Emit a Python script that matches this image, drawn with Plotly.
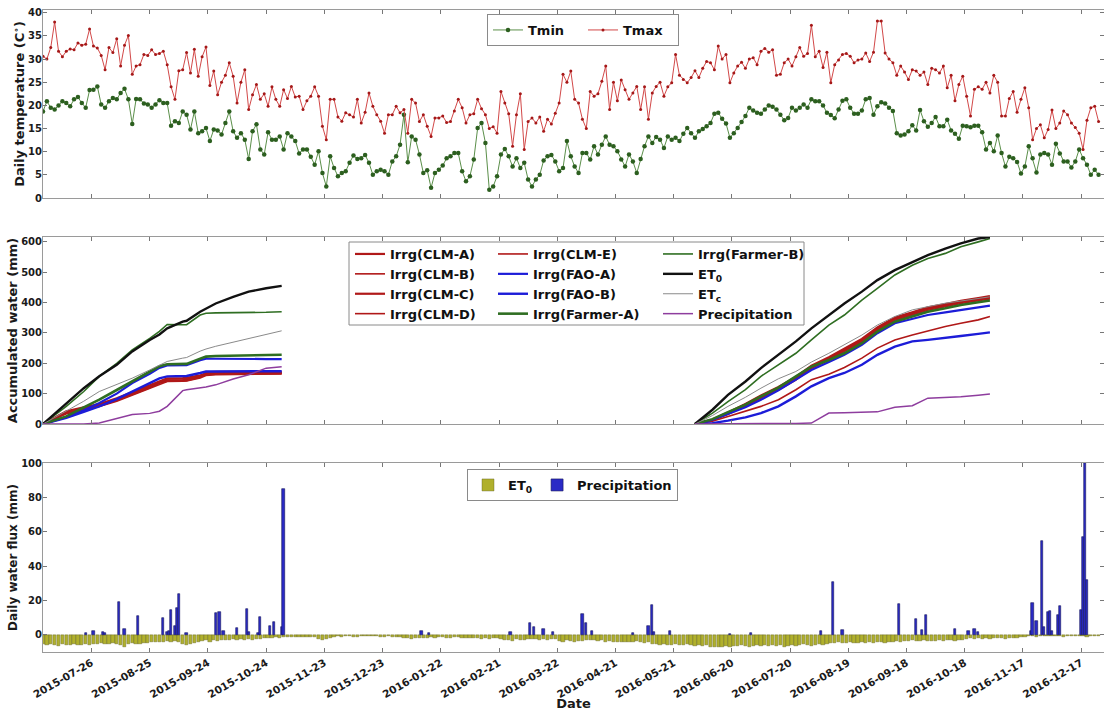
import pandas as pd
import plotly.graph_objects as go
from plotly.subplots import make_subplots

# ---------------- daily weather (read every second day) ----------------
T_START = "2015-07-01"
T_STEP = "2D"
TMAX = [30.6,30.0,32.5,38.0,31.7,30.5,31.7,32.2,32.0,33.5,
        33.0,33.2,36.5,32.8,32.4,30.8,27.7,32.5,31.4,34.4,
        28.5,33.0,35.1,26.7,28.5,28.8,31.0,30.8,32.0,31.0,
        31.2,31.7,28.8,24.0,21.3,27.5,27.7,31.4,27.0,32.1,
        26.3,30.5,32.6,24.3,27.4,22.3,25.0,26.5,29.2,26.3,
        20.5,25.0,27.7,19.1,22.3,24.5,21.3,22.5,19.8,24.0,
        21.3,19.8,23.4,21.5,24.1,21.8,22.0,19.1,21.0,22.0,
        24.0,22.0,15.5,12.6,21.3,21.3,17.5,16.6,18.4,18.0,
        17.5,21.3,16.2,18.5,22.7,19.8,18.0,16.6,14.0,18.0,
        18.0,19.8,18.4,19.1,14.0,21.3,20.5,16.5,18.0,15.5,
        13.3,17.3,17.3,17.7,16.3,16.5,18.8,21.3,19.5,16.2,
        18.0,18.2,21.3,19.3,18.0,15.0,15.4,14.0,23.0,20.5,
        18.2,11.2,18.0,22.5,10.5,16.5,17.3,16.2,17.5,14.4,
        17.0,16.0,18.3,20.5,26.7,25.0,27.4,21.3,20.5,17.0,
        15.0,23.0,22.0,22.5,25.2,28.5,19.1,25.0,21.0,25.5,
        23.4,21.3,22.7,24.1,19.1,24.0,17.0,22.7,24.1,25.0,
        22.0,24.0,24.9,31.0,26.5,25.6,24.9,26.0,27.5,26.0,
        28.0,29.5,29.2,27.7,32.8,30.0,31.0,24.9,27.0,28.5,
        29.3,28.0,30.0,30.3,28.8,31.7,32.3,31.5,32.0,26.5,
        26.7,29.2,30.0,28.5,30.5,32.5,30.6,31.2,37.3,30.5,
        31.7,28.2,31.5,24.9,28.8,29.8,31.0,31.2,30.6,29.2,
        29.8,30.0,31.3,29.5,31.5,38.2,38.2,31.3,30.0,29.2,
        26.5,28.5,27.2,25.6,27.7,27.4,26.5,27.2,24.5,28.0,
        27.7,27.0,28.5,23.8,26.5,21.0,24.5,26.3,22.0,17.7,
        23.5,24.0,23.5,25.0,22.7,26.5,25.0,17.7,17.7,21.5,
        23.0,18.5,21.3,23.8,19.5,12.6,15.0,15.8,13.0,14.8,
        19.0,15.0,16.2,18.8,18.0,16.2,15.2,14.0,10.5,16.8,
        19.5,19.8,16.5]
TMIN = [18.7,20.9,19.5,19.1,20.0,20.9,20.5,19.8,21.3,21.8,
        20.5,19.5,23.3,23.4,24.1,20.2,19.5,20.9,21.6,21.3,
        22.7,23.6,21.3,16.0,21.4,21.3,20.4,20.2,19.5,20.2,
        21.1,20.5,20.5,15.6,16.6,16.2,18.7,18.0,14.8,18.7,
        14.0,14.4,15.1,12.3,14.8,14.6,13.7,16.2,18.7,14.4,
        13.0,14.0,12.6,8.4,14.4,15.9,10.5,9.4,14.2,12.6,
        12.6,13.3,10.5,14.0,13.3,12.3,9.6,10.5,10.5,8.9,
        7.2,10.1,5.4,2.5,9.0,6.5,4.7,5.4,5.8,7.6,
        9.2,8.4,8.6,9.3,7.6,5.0,5.8,6.1,5.8,5.0,
        7.9,9.0,11.5,18.0,7.7,13.3,12.6,9.4,5.4,6.0,
        2.2,5.4,6.1,7.0,8.6,9.0,9.7,9.7,5.8,3.6,
        4.7,8.3,15.1,16.2,11.9,1.8,2.5,4.7,9.4,10.6,
        9.0,6.8,8.6,6.5,7.6,4.0,2.5,4.0,5.0,8.1,
        9.0,9.3,7.9,5.8,6.5,12.3,9.0,6.8,5.4,9.7,
        9.7,8.3,11.2,9.4,11.5,13.3,11.5,11.2,10.1,8.3,
        6.8,9.4,7.9,5.4,8.4,11.2,13.3,11.9,13.2,12.6,
        10.8,13.3,12.6,13.0,12.3,13.9,15.1,14.0,13.0,14.4,
        14.9,15.5,16.2,18.2,18.4,17.1,16.1,13.0,14.0,15.1,
        16.4,17.7,19.5,18.9,18.4,18.2,19.1,20.0,19.7,19.1,
        18.0,16.8,17.3,19.5,18.9,19.5,20.2,19.5,21.3,20.9,
        20.9,20.0,18.4,17.9,17.2,19.1,21.0,21.3,19.5,18.2,
        18.2,18.9,21.3,21.6,18.0,19.8,20.7,20.4,19.5,18.8,
        14.0,13.5,13.7,14.4,15.7,14.6,19.0,16.6,15.4,16.2,
        17.5,15.5,15.5,16.9,14.6,13.9,12.8,15.6,15.5,15.3,
        15.6,15.6,14.2,10.5,11.9,10.1,13.5,9.7,6.8,8.9,
        8.6,7.8,5.3,6.8,11.2,8.6,5.5,9.4,9.7,9.4,
        7.2,11.7,9.6,7.9,7.9,6.6,7.9,10.5,8.6,7.2,
        5.0,6.1,5.0]
ET0_DAILY = [5.5,6.0,5.2,5.8,6.3,5.5,5.9,6.1,5.4,5.7,6.0,5.3,5.8,
             5.0,5.4,4.6,5.2,5.5,4.8,5.1,5.6,7.0,5.2,4.9,5.3,5.5,
             4.8,4.5,4.0,4.3,3.8,4.1,3.5,3.9,3.6,4.2,
             5.0,5.8,5.5,4.6,4.0,
             3.5,3.2,3.8,3.0,3.4,3.1,2.8,
             2.9,2.5,3.0,2.6,2.8,2.3,2.7,2.4,2.2,2.0,1.8,
             1.6,1.4,1.5,1.2,1.3,1.1,1.0,1.2,0.9,1.0,1.1,0.9,
             2.5,3.0,2.6,2.0,
             1.0,0.8,0.9,0.7,0.8,1.0,0.9,0.7,0.8,0.6,0.7,0.8,1.0,0.9,0.8,1.0,1.1,0.9,
             2.0,1.8,2.2,1.6,2.0,1.7,
             1.5,1.3,1.6,1.4,1.2,1.5,1.7,1.4,1.3,1.6,1.5,1.8,
             2.0,1.8,2.2,1.9,2.1,1.7,2.0,2.3,
             3.0,2.8,3.3,2.6,3.1,2.9,
             2.4,2.6,2.3,2.7,2.5,2.8,2.4,2.6,
             3.5,3.8,3.2,3.6,3.9,3.4,3.7,
             3.0,3.2,2.8,3.3,3.1,
             4.0,3.7,4.2,3.9,4.1,3.8,4.3,4.0,3.6,4.2,4.4,3.9,
             5.5,5.2,5.8,5.4,5.9,5.6,5.3,5.7,6.0,5.5,
             6.0,6.3,5.8,6.5,6.1,6.7,6.9,7.2,6.8,6.4,7.0,6.6,6.2,
             6.0,6.4,6.8,6.2,5.9,6.5,6.1,6.6,5.8,6.3,6.0,6.7,6.2,5.7,6.4,6.0,5.5,5.9,6.2,5.6,5.3,5.8,5.4,
             4.5,4.8,4.2,4.6,4.9,4.3,4.7,4.4,4.1,4.6,4.0,4.5,4.2,3.9,4.4,4.1,3.8,
             3.5,3.8,3.3,3.6,3.2,3.7,3.4,3.1,3.5,3.3,3.6,3.0,3.4,3.2,2.9,3.3,3.0,2.8,
             2.2,2.0,2.4,1.9,2.1,1.8,2.3,2.0,1.7,1.9,2.1,1.6,1.8,
             1.5,1.4,1.3,
             0.8,0.7,0.9,0.6,0.8,0.7,0.6,0.8,0.7,0.9,0.6,0.7,0.8,0.6,0.7,0.9,0.8,0.7,0.6]

PRECIP_DATES = ["2015-07-23","2015-07-27","2015-08-01","2015-08-02","2015-08-09","2015-08-12","2015-08-19",
                "2015-09-01","2015-09-03","2015-09-04","2015-09-05","2015-09-07","2015-09-08","2015-09-09",
                "2015-09-13","2015-09-28","2015-09-30","2015-10-02","2015-10-09","2015-10-14","2015-10-15",
                "2015-10-20","2015-10-21","2015-10-26","2015-10-28","2015-11-01","2015-11-02",
                "2016-01-12","2016-01-16","2016-02-27","2016-03-08","2016-03-10","2016-03-15","2016-03-20",
                "2016-04-04","2016-04-06","2016-04-09","2016-04-30","2016-05-08","2016-05-10","2016-05-11",
                "2016-05-19","2016-06-19","2016-06-30","2016-08-05","2016-08-11","2016-08-16","2016-09-14",
                "2016-09-23","2016-09-26","2016-09-28","2016-10-13","2016-10-20","2016-10-23","2016-10-25",
                "2016-11-21","2016-11-22","2016-11-24","2016-11-27","2016-11-28","2016-11-30","2016-12-01",
                "2016-12-02","2016-12-05","2016-12-06","2016-12-17","2016-12-18","2016-12-19","2016-12-20"]
PRECIP_MM = [1,2.5,2,1.4,19,3.5,11,
             10,1.5,2.3,14.5,5,15.5,24,
             1,12.6,13.2,2.3,3.9,15,1.5,
             1,10.3,5.2,7.4,4.5,84.7,
             2.5,1.4,1.5,7.2,4.8,3.3,2,
             12.4,6.8,2.5,1.4,5.4,17.2,2,
             2.5,0.5,1.2,2.5,31,2.7,17.8,
             9.1,2.7,11.4,3.3,2.5,3.7,2,
             2.5,18.8,8.3,54.8,4.8,13.2,14,
             2.3,11.4,16.9,14.5,57.2,99.8,32]

# ---------------- accumulated water, two seasons ----------------
S1_START = "2015-07-01"
S1_DAYS = [0,12,21,29,38,46,55,60,64,72,74,81,84,89,98,106,115,123]
S2_START = "2016-06-01"
S2_DAYS = [0,9,17,26,34,43,52,60,69,77,86,94,103,112,120,129,137,146,152]

CLM_A_S1 = [0,42,55,66,85,105,128,142,150,151,152,160,164,166,166,167,167,168]
CLM_B_S1 = [0,38,50,62,80,100,122,138,145,146,147,156,162,164,165,165,166,166]
CLM_C_S1 = [0,35,48,60,78,97,120,135,142,143,144,155,170,172,172,172,172,172]
CLM_D_S1 = [0,40,52,64,83,103,126,140,148,149,150,158,163,165,167,168,169,170]
CLM_E_S1 = [0,36,46,58,75,95,118,132,140,141,142,152,160,162,163,163,164,165]
FAO_A_S1 = [0,22,45,69,100,135,165,185,193,193,194,210,215,215,214,214,214,214]
FAO_B_S1 = [0,20,40,58,82,107,135,150,157,157,158,168,173,173,173,173,173,174]
FARMER_A_S1 = [0,25,55,80,112,140,170,190,197,197,198,215,222,224,225,226,226,228]
FARMER_B_S1 = [0,58,107,157,200,244,282,305,328,326,327,359,365,366,366,368,368,370]
ET0_S1 = [0,69,118,157,195,239,277,295,315,337,340,370,380,397,419,436,447,455]
ETC_S1 = [0,42,75,107,130,151,178,193,206,217,219,240,247,256,270,282,294,307]
PREC_S1 = [0,0,0,3,18,31,35,42,58,110,113,118,122,129,148,162,184,189]

CLM_A_S2 = [0,14,36,64,91,118,151,189,217,244,277,315,348,365,381,392,403,412,418]
CLM_B_S2 = [0,9,25,42,58,80,113,146,164,186,217,250,277,293,307,321,332,343,354]
CLM_C_S2 = [0,15,38,66,94,122,155,192,220,247,280,318,351,368,384,395,406,415,421]
CLM_D_S2 = [0,13,34,61,88,115,148,186,214,241,274,312,345,362,378,389,400,409,415]
CLM_E_S2 = [0,12,32,58,85,112,145,183,211,238,271,309,342,359,375,386,397,406,412]
FAO_A_S2 = [0,14,33,55,80,111,146,178,204,228,261,299,332,346,359,368,376,383,390]
FAO_B_S2 = [0,3,11,22,36,58,91,124,151,168,195,228,255,272,277,285,290,297,302]
FARMER_A_S2 = [0,16,39,64,91,120,157,189,211,233,266,304,337,354,370,381,392,401,407]
FARMER_B_S2 = [0,36,74,113,157,195,233,277,326,359,408,447,491,523,545,562,584,600,611]
ET0_S2 = [0,47,96,140,184,228,272,315,359,397,436,474,507,534,556,578,595,611,616]
ETC_S2 = [0,28,58,88,118,149,173,204,233,261,293,326,354,376,387,398,405,414,419]
PREC_S2 = [0,0,0,1,1,2,2,3,36,37,38,40,55,60,85,87,90,95,99]

TICK_START = "2015-07-26"
TICK_STEP_DAYS = 30

# ---------------- build ----------------
DAY_MS = 86400000
t_dates = pd.date_range(T_START, periods=len(TMAX), freq=T_STEP)
s1_dates = [pd.Timestamp(S1_START) + pd.Timedelta(days=d) for d in S1_DAYS]
s2_dates = [pd.Timestamp(S2_START) + pd.Timedelta(days=d) for d in S2_DAYS]
gap_date = s1_dates[-1] + pd.Timedelta(days=1)


def two_seasons(a, b):
    return s1_dates + [gap_date] + s2_dates, list(a) + [None] + list(b)


FONT = "DejaVu Sans"
fig = make_subplots(rows=3, cols=1, shared_xaxes=True)

# top panel
fig.add_trace(go.Scatter(x=t_dates, y=TMIN, name="Tmin", mode="lines+markers",
                         line=dict(color="#5b8f4a", width=1),
                         marker=dict(color="#2c5f1f", size=4.5),
                         legend="legend"), row=1, col=1)
fig.add_trace(go.Scatter(x=t_dates, y=TMAX, name="Tmax", mode="lines+markers",
                         line=dict(color="#d24848", width=1),
                         marker=dict(color="#a51818", size=3),
                         legend="legend"), row=1, col=1)

RED = "#b01818"
BLUE = "#1c1cd8"
GREEN = "#2f6e22"
acc = [
    ("Irrg(CLM-A)", CLM_A_S1, CLM_A_S2, RED, 2.2, "legend2"),
    ("Irrg(CLM-B)", CLM_B_S1, CLM_B_S2, RED, 1.6, "legend2"),
    ("Irrg(CLM-C)", CLM_C_S1, CLM_C_S2, RED, 2.2, "legend2"),
    ("Irrg(CLM-D)", CLM_D_S1, CLM_D_S2, RED, 1.6, "legend2"),
    ("Irrg(CLM-E)", CLM_E_S1, CLM_E_S2, RED, 1.6, "legend3"),
    ("Irrg(FAO-A)", FAO_A_S1, FAO_A_S2, BLUE, 2.2, "legend3"),
    ("Irrg(FAO-B)", FAO_B_S1, FAO_B_S2, BLUE, 2.4, "legend3"),
    ("Irrg(Farmer-A)", FARMER_A_S1, FARMER_A_S2, GREEN, 2.6, "legend3"),
    ("Irrg(Farmer-B)", FARMER_B_S1, FARMER_B_S2, GREEN, 1.6, "legend4"),
    ("ET<sub>0</sub>", ET0_S1, ET0_S2, "#111111", 2.4, "legend4"),
    ("ET<sub>c</sub>", ETC_S1, ETC_S2, "#8a8a8a", 1.0, "legend4"),
    ("Precipitation", PREC_S1, PREC_S2, "#8e3d9e", 1.5, "legend4"),
]
for name, a, b, col, w, lg in acc:
    xx, yy = two_seasons(a, b)
    fig.add_trace(go.Scatter(x=xx, y=yy, name=name, mode="lines",
                             line=dict(color=col, width=w), connectgaps=False,
                             legend=lg), row=2, col=1)

# bottom panel
fig.add_trace(go.Bar(x=t_dates, y=[-v for v in ET0_DAILY], name="ET<sub>0</sub>",
                     width=DAY_MS * 1.7,
                     marker=dict(color="#b0b02c", line=dict(color="#5c5c1e", width=0.4)),
                     legend="legend5"), row=3, col=1)
fig.add_trace(go.Bar(x=pd.to_datetime(PRECIP_DATES), y=PRECIP_MM, name="Precipitation",
                     width=DAY_MS * 1.2,
                     marker=dict(color="#2a2ac6", line=dict(color="#16165a", width=0.6)),
                     legend="legend5"), row=3, col=1)

# layout geometry (pixels -> paper)
L, R, T, B = 43, 0, 10, 59
W, H = 1104, 711
PH = H - T - B
PW = W - L - R


def py(pix):
    return (H - B - pix) / PH


def px(pix):
    return (pix - L) / PW


tickfont = dict(size=10, color="#1a1a1a", family=FONT, weight="bold")
axis_common = dict(showline=True, linecolor="#9a9a9a", linewidth=1, mirror="ticks",
                   ticks="inside", ticklen=4, tickcolor="#777777", showgrid=False,
                   zeroline=False, tickfont=tickfont)

x_range = ["2015-07-01", "2016-12-28 19:00"]
for i in (1, 2, 3):
    fig.update_xaxes(range=x_range, tick0=TICK_START, dtick=TICK_STEP_DAYS * DAY_MS,
                     tickformat="%Y-%m-%d", **axis_common, row=i, col=1)
fig.update_xaxes(showticklabels=False, row=1, col=1)
fig.update_xaxes(showticklabels=False, row=2, col=1)
fig.update_xaxes(tickangle=-30, tickfont=dict(size=10.5, color="#1a1a1a", family=FONT, weight="bold"),
                 title=dict(text="Date", standoff=2,
                            font=dict(size=13, family=FONT, weight="bold", color="#1a1a1a")),
                 row=3, col=1)

title_font = dict(size=13, family=FONT, weight="bold", color="#1a1a1a")
fig.update_yaxes(range=[0, 40.6], dtick=5, ticklabelstandoff=-2, **axis_common, row=1, col=1,
                 title=dict(text="Daily temperature (C<sup>∘</sup>)", standoff=0, font=title_font))
fig.update_yaxes(range=[0, 616], dtick=100, ticklabelstandoff=-2, **axis_common, row=2, col=1,
                 title=dict(text="Accumulated water (mm)", standoff=0, font=title_font))
fig.update_yaxes(range=[-9.9, 100], tick0=0, dtick=20, ticklabelstandoff=-2, **axis_common, row=3, col=1,
                 title=dict(text="Daily water flux (mm)", standoff=0,
                            font=dict(size=12, family=FONT, weight="bold", color="#1a1a1a")))

fig.update_layout(
    yaxis=dict(domain=[py(198), py(10)]),
    yaxis2=dict(domain=[py(424), py(237)]),
    yaxis3=dict(domain=[0, py(463)]),
)

leg_font = dict(size=13, family=FONT, weight="bold", color="#111111")
mid_y = py(239)
fig.update_layout(
    width=W, height=H,
    margin=dict(l=L, r=R, t=T, b=B),
    paper_bgcolor="white", plot_bgcolor="white",
    font=dict(family=FONT, weight="bold"),
    barmode="overlay", bargap=0,
    legend=dict(orientation="h", x=px(487), y=py(14), xanchor="left", yanchor="top",
                bgcolor="white", bordercolor="#8a8a8a", borderwidth=1, font=leg_font,
                entrywidth=50),
    legend2=dict(x=px(350), y=mid_y, xanchor="left", yanchor="top", bgcolor="rgba(0,0,0,0)",
                 borderwidth=0, font=leg_font, tracegroupgap=0),
    legend3=dict(x=px(493), y=mid_y, xanchor="left", yanchor="top", bgcolor="rgba(0,0,0,0)",
                 borderwidth=0, font=leg_font, tracegroupgap=0),
    legend4=dict(x=px(658), y=mid_y, xanchor="left", yanchor="top", bgcolor="rgba(0,0,0,0)",
                 borderwidth=0, font=leg_font, tracegroupgap=0),
    legend5=dict(orientation="h", x=px(467), y=py(469), xanchor="left", yanchor="top",
                 bgcolor="white", bordercolor="#8a8a8a", borderwidth=1, font=leg_font),
    shapes=[dict(type="rect", xref="paper", yref="paper", x0=px(349), x1=px(804),
                 y0=py(325), y1=py(242), line=dict(color="#8a8a8a", width=1),
                 fillcolor="white", layer="above")],
)

fig.write_html("out.html")
